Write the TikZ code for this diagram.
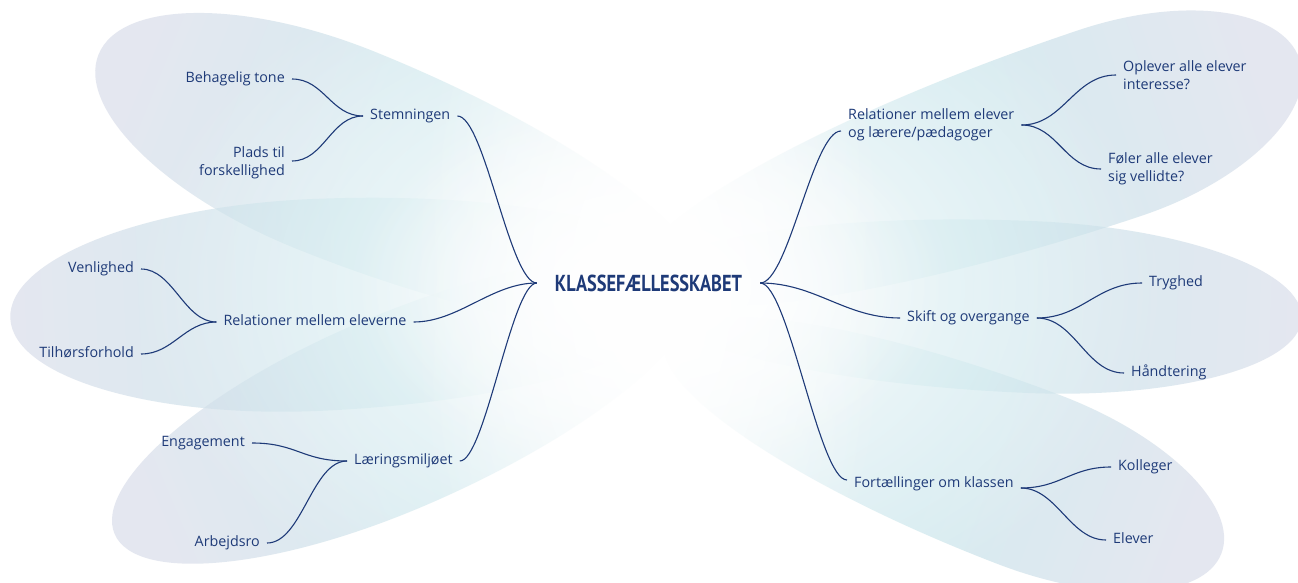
\documentclass[tikz,border=0pt]{standalone}
\usepackage{fontspec}
\setmainfont{Open Sans}
\newfontfamily\titlefont{PT Sans}
\usetikzlibrary{fadings}
\tikzfading[name=glowfade, inner color=transparent!0, outer color=transparent!100]
\definecolor{navy}{RGB}{30,58,120}
\definecolor{petfar}{RGB}{212,217,231}
\definecolor{petnear}{RGB}{188,224,231}
\tikzset{
  lbl/.style={font=\fontsize{14.3}{18}\selectfont, text=navy, inner xsep=7pt, inner ysep=1pt},
  one/.style={lbl, text height=10.9pt, text depth=3.4pt},
  conn/.style={draw=navy, line width=1.1pt},
  petal/.style={fill opacity=0.62, draw=none, top color=petfar, bottom color=petnear, middle color=petnear},
  glow/.style={white, path fading=glowfade}
}
% #1,#2 widest point; #3 direction of far end; #4 far half length; #5 near half length; #6 half width; #7 shading angle
\newcommand\eggpetal[7]{%
  \shade[petal, shading angle=#7, shift={(#1,#2)}, rotate=#3]
    (0,-#6) arc[start angle=-90, end angle=90, x radius=#4, y radius=#6]
    arc[start angle=90, end angle=270, x radius=#5, y radius=#6] -- cycle;}
\begin{document}
\begin{tikzpicture}[x=1pt,y=-1pt]
\useasboundingbox (0,0) rectangle (1298,583);
\clip (0,0) rectangle (1298,583);
\fill[white] (0,0) rectangle (1298,583);

% petals
\eggpetal{335}{150}{158}{255}{400}{106}{68}
\eggpetal{315}{305}{182.5}{305}{390}{106}{92.5}
\eggpetal{390}{415}{203.4}{300}{330}{97}{113}
\eggpetal{1110}{123}{18.5}{200}{500}{98}{-71.5}
\eggpetal{1030}{307}{-2.4}{272}{400}{86}{-92.4}
\eggpetal{1030}{480}{-21}{205}{390}{90}{-111}

% central glow
\fill[glow] (650,288) ellipse [x radius=520, y radius=360];
\fill[glow] (650,286) ellipse [x radius=300, y radius=190];
\fill[glow] (650,290) ellipse [x radius=240, y radius=460];

% centre
\node[lbl, inner xsep=18pt] (ctr) at (648.5,283) {\resizebox{187pt}{16.5pt}{\titlefont\bfseries KLASSEFÆLLESSKABET}};

% left side
\node[one, anchor=west] (stem) at (363,116) {Stemningen};
\node[one, anchor=east] (beh) at (292,79) {Behagelig tone};
\node[lbl, anchor=east, align=right] (plads) at (292,163) {Plads til\\forskellighed};
\node[one] (rel) at (315,322) {Relationer mellem eleverne};
\node[one, anchor=east] (ven) at (141,269) {Venlighed};
\node[one, anchor=east] (til) at (141,354) {Tilhørsforhold};
\node[one, anchor=west] (lar) at (347,461) {Læringsmiljøet};
\node[one, anchor=east] (eng) at (252,443) {Engagement};
\node[one, anchor=east] (arb) at (267,543) {Arbejdsro};

% right side
\node[lbl, anchor=west, align=left] (rlp) at (841,125) {Relationer mellem elever\\og lærere/pædagoger};
\node[lbl, anchor=west, align=left] (opl) at (1116,75) {Oplever alle elever\\interesse?};
\node[lbl, anchor=west, align=left] (fol) at (1101,169) {Føler alle elever\\sig vellidte?};
\node[one, anchor=west] (skift) at (900,318) {Skift og overgange};
\node[one, anchor=west] (tryg) at (1142,283) {Tryghed};
\node[one, anchor=west] (hand) at (1124,373) {Håndtering};
\node[one, anchor=west] (fort) at (847,484) {Fortællinger om klassen};
\node[one, anchor=west] (koll) at (1111,467) {Kolleger};
\node[one, anchor=west] (elev) at (1106,540) {Elever};

% connectors (left side)
\draw[conn] (beh.east) .. controls +(32,0) and +(-32,0) .. (stem.west);
\draw[conn] ([yshift=2pt]plads.east) .. controls +(32,0) and +(-32,0) .. (stem.west);
\draw[conn] (stem.east) .. controls +(27,0) and +(-27,0) .. (ctr.west);
\draw[conn] (ven.east) .. controls +(32,0) and +(-32,0) .. (rel.west);
\draw[conn] (til.east) .. controls +(32,0) and +(-32,0) .. (rel.west);
\draw[conn] (rel.east) .. controls +(45,0) and +(-45,0) .. (ctr.west);
\draw[conn] (eng.east) .. controls +(45,0) and +(-45,0) .. (lar.west);
\draw[conn] (arb.east) .. controls +(35,0) and +(-35,0) .. (lar.west);
\draw[conn] (lar.east) .. controls +(25,0) and +(-25,0) .. (ctr.west);

% connectors (right side)
\draw[conn] (ctr.east) .. controls +(28,0) and +(-28,0) .. ([yshift=-6pt]rlp.west);
\draw[conn] (rlp.east) .. controls +(42,0) and +(-42,0) .. (opl.west);
\draw[conn] (rlp.east) .. controls +(36,0) and +(-36,0) .. (fol.west);
\draw[conn] (ctr.east) .. controls +(55,0) and +(-55,0) .. (skift.west);
\draw[conn] (skift.east) .. controls +(45,0) and +(-45,0) .. (tryg.west);
\draw[conn] (skift.east) .. controls +(38,0) and +(-38,0) .. (hand.west);
\draw[conn] (ctr.east) .. controls +(28,0) and +(-28,0) .. ([yshift=4pt]fort.west);
\draw[conn] ([yshift=-4pt]fort.east) .. controls +(40,0) and +(-40,0) .. (koll.west);
\draw[conn] ([yshift=-4pt]fort.east) .. controls +(36,0) and +(-36,0) .. (elev.west);
\end{tikzpicture}
\end{document}
